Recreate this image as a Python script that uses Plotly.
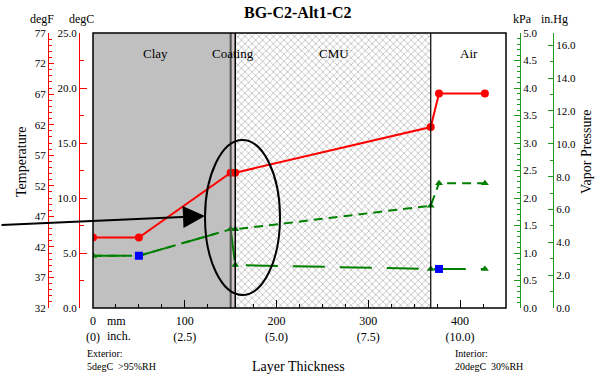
import plotly.graph_objects as go

W, H = 596, 374
ML, MR, MT, MB = 10, 10, 33, 66
PW = W - ML - MR
PH = H - MT - MB


def px(xp):
    return (xp - ML) / PW


def py(yp):
    return (H - MB - yp) / PH


# ---------------- data ----------------
layer_names = ["Clay", "Coating", "CMU", "Air"]
layer_edges_mm = [0, 150, 155, 368, 450]
layer_colors = ["#c0c0c0", "#d2c6c6", "#ffffff", "#ffffff"]
layer_patterns = ["", "", "x", ""]

temp_x_mm = [0, 50, 150, 155, 368, 377, 427]
temp_c = [6.4, 6.4, 12.3, 12.3, 16.45, 19.5, 19.5]

psat_x_mm = [0, 50, 150, 155, 368, 377, 427]
psat_kpa = [0.95, 0.95, 1.43, 1.43, 1.86, 2.27, 2.27]

vp_x_mm = [0, 50, 150, 155, 368, 377, 427]
vp_kpa = [0.95, 0.95, 1.43, 0.78, 0.71, 0.71, 0.71]

bc_x_mm = [50, 377]
bc_kpa = [0.95, 0.71]

x_tick_mm = [0, 100, 200, 300, 400]
x_tick_inch = ["(0)", "(2.5)", "(5.0)", "(7.5)", "(10.0)"]

degF_range = [32, 77]
inhg_range = [0, 16.75]

SERIF = "Liberation Serif"
RED = "#ff0000"
GREEN = "#008000"
AXGREEN = "#1f9a1f"

fig = go.Figure()

# layers as bars
centers = [(a + b) / 2 for a, b in zip(layer_edges_mm[:-1], layer_edges_mm[1:])]
widths = [b - a for a, b in zip(layer_edges_mm[:-1], layer_edges_mm[1:])]
fig.add_trace(go.Bar(
    x=centers, y=[25] * len(centers), width=widths, base=0,
    marker=dict(color=layer_colors, line=dict(width=0),
                pattern=dict(shape=layer_patterns, fgcolor="#c2c2c2",
                             bgcolor="#ffffff", size=5, solidity=0.22)),
    hoverinfo="skip", showlegend=False, xaxis="x", yaxis="y"))

# invisible anchors so the secondary scales are drawn
fig.add_trace(go.Scatter(x=[0, 0], y=degF_range, mode="markers", xaxis="x", yaxis="y2",
                         marker=dict(opacity=0), showlegend=False, hoverinfo="skip"))
fig.add_trace(go.Scatter(x=[0, 0], y=inhg_range, mode="markers", xaxis="x", yaxis="y4",
                         marker=dict(opacity=0), showlegend=False, hoverinfo="skip"))

# saturation vapour pressure
fig.add_trace(go.Scatter(
    x=psat_x_mm, y=psat_kpa, mode="lines+markers", xaxis="x", yaxis="y3",
    line=dict(color=GREEN, width=2, dash="9px,6px"),
    marker=dict(symbol="triangle-up", size=7, color=GREEN),
    showlegend=False, hoverinfo="skip"))
# actual vapour pressure
fig.add_trace(go.Scatter(
    x=vp_x_mm, y=vp_kpa, mode="lines+markers", xaxis="x", yaxis="y3",
    line=dict(color=GREEN, width=2, dash="32px,15px"),
    marker=dict(symbol="triangle-up", size=7, color=GREEN),
    showlegend=False, hoverinfo="skip"))
# boundary vapour pressure points
fig.add_trace(go.Scatter(
    x=bc_x_mm, y=bc_kpa, mode="markers", xaxis="x", yaxis="y3",
    marker=dict(symbol="square", size=8, color="#0000ff"),
    showlegend=False, hoverinfo="skip"))
# temperature
fig.add_trace(go.Scatter(
    x=temp_x_mm, y=temp_c, mode="lines+markers", xaxis="x", yaxis="y",
    line=dict(color=RED, width=2),
    marker=dict(symbol="circle", size=8, color=RED),
    showlegend=False, hoverinfo="skip"))

# layer boundary lines
bcol = ["#505050", "#000000", "#000000"]
bw = [2, 1.5, 1.2]
for e, c, w in zip(layer_edges_mm[1:-1], bcol, bw):
    fig.add_shape(type="line", xref="x", yref="y domain", x0=e, x1=e, y0=0, y1=1,
                  line=dict(color=c, width=w))

# frame
fig.add_shape(type="rect", xref="x domain", yref="y domain", x0=0, x1=1, y0=0, y1=1,
              line=dict(color="black", width=1.5))

tickfont = dict(family=SERIF, size=11, color="black")

fig.update_layout(
    width=W, height=H, margin=dict(l=ML, r=MR, t=MT, b=MB, autoexpand=False),
    paper_bgcolor="white", plot_bgcolor="white", barmode="overlay",
    font=dict(family=SERIF, color="black"),
    xaxis=dict(domain=[px(93), px(506)], range=[0, 450], anchor="y", automargin=False,
               showgrid=False, zeroline=False, showline=False,
               tickvals=x_tick_mm,
               ticktext=[f"{v}<br>{t}" for v, t in zip(x_tick_mm, x_tick_inch)],
               ticks="inside", ticklen=8, tickcolor="black", tickwidth=1,
               ticklabelstandoff=4,
               minor=dict(dtick=25, tick0=0, ticks="inside", ticklen=4, tickcolor="black"),
               tickfont=dict(family=SERIF, size=12, color="black")),
    yaxis=dict(range=[0, 25], anchor="free", position=px(79), side="left", automargin=False,
               showgrid=False, zeroline=False, showline=True, linecolor=RED, linewidth=1,
               tick0=0, dtick=5, tickformat=".1f", ticks="inside", ticklen=7,
               tickcolor=RED, minor=dict(dtick=2.5, ticks="inside", ticklen=4, tickcolor=RED),
               tickfont=tickfont),
    yaxis2=dict(range=degF_range, anchor="free", position=px(48), side="left", automargin=False,
                overlaying="y", showgrid=False, zeroline=False, showline=True,
                linecolor=RED, linewidth=1, tick0=32, dtick=5, ticks="inside",
                ticklen=5, tickcolor=RED,
                minor=dict(dtick=1, tick0=32, ticks="inside", ticklen=3, tickcolor=RED),
                tickfont=tickfont),
    yaxis3=dict(range=[0, 5], anchor="free", position=px(520), side="right", automargin=False,
                overlaying="y", showgrid=False, zeroline=False, showline=True,
                linecolor=AXGREEN, linewidth=1, tick0=0, dtick=0.5, tickformat=".1f",
                ticks="inside", ticklen=6, tickcolor=AXGREEN,
                minor=dict(dtick=0.1, ticks="inside", ticklen=3, tickcolor=AXGREEN),
                tickfont=tickfont),
    yaxis4=dict(range=inhg_range, anchor="free", position=px(553), side="right", automargin=False,
                overlaying="y", showgrid=False, zeroline=False, showline=True,
                linecolor=AXGREEN, linewidth=1, tick0=0, dtick=2, tickformat=".1f",
                ticks="inside", ticklen=5, tickcolor=AXGREEN,
                minor=dict(dtick=1, ticks="inside", ticklen=3, tickcolor=AXGREEN),
                tickfont=tickfont),
)

# ellipse
fig.add_shape(type="circle", xref="paper", yref="paper",
              x0=px(205), x1=px(280), y0=py(295), y1=py(140),
              line=dict(color="black", width=2))

ann = []


def A(text, xp, yp, size=12, xanchor="center", yanchor="middle", **kw):
    ann.append(dict(text=text, x=px(xp), y=py(yp), xref="paper", yref="paper",
                    showarrow=False, xanchor=xanchor, yanchor=yanchor,
                    font=dict(family=SERIF, size=size, color="black"), **kw))


A("<b>BG-C2-Alt1-C2</b>", 298, 13, size=16)
A("degF", 42, 19)
A("degC", 81, 19)
A("kPa", 522, 19)
A("in.Hg", 554, 19)
label_x = [155, 233, 334, 469]
for name, xp in zip(layer_names, label_x):
    A(name, xp, 53, size=13)
A("mm", 105, 321, size=12, xanchor="left")
A("inch.", 105, 336, size=12, xanchor="left")
A("Exterior:<br>5degC\u00a0\u00a0>95%RH", 85, 346, size=10, xanchor="left", yanchor="top", align="left")
A("Interior:<br>20degC\u00a0\u00a030%RH", 453, 346, size=10, xanchor="left", yanchor="top", align="left")
A("Layer Thickness", 298, 366, size=14)
A("Temperature", 21, 162, size=14, textangle=-90)
A("Vapor Pressure", 586, 152, size=14, textangle=-90)

ann.append(dict(x=px(205), y=py(216), xref="paper", yref="paper", text="",
                showarrow=True, ax=-215, ay=9, axref="pixel", ayref="pixel",
                arrowhead=2, arrowsize=2.2, arrowwidth=2, arrowcolor="black"))

fig.update_layout(annotations=ann)

fig.write_html("out.html", config={"displayModeBar": False},
               post_script="document.body.style.margin='0px';")
